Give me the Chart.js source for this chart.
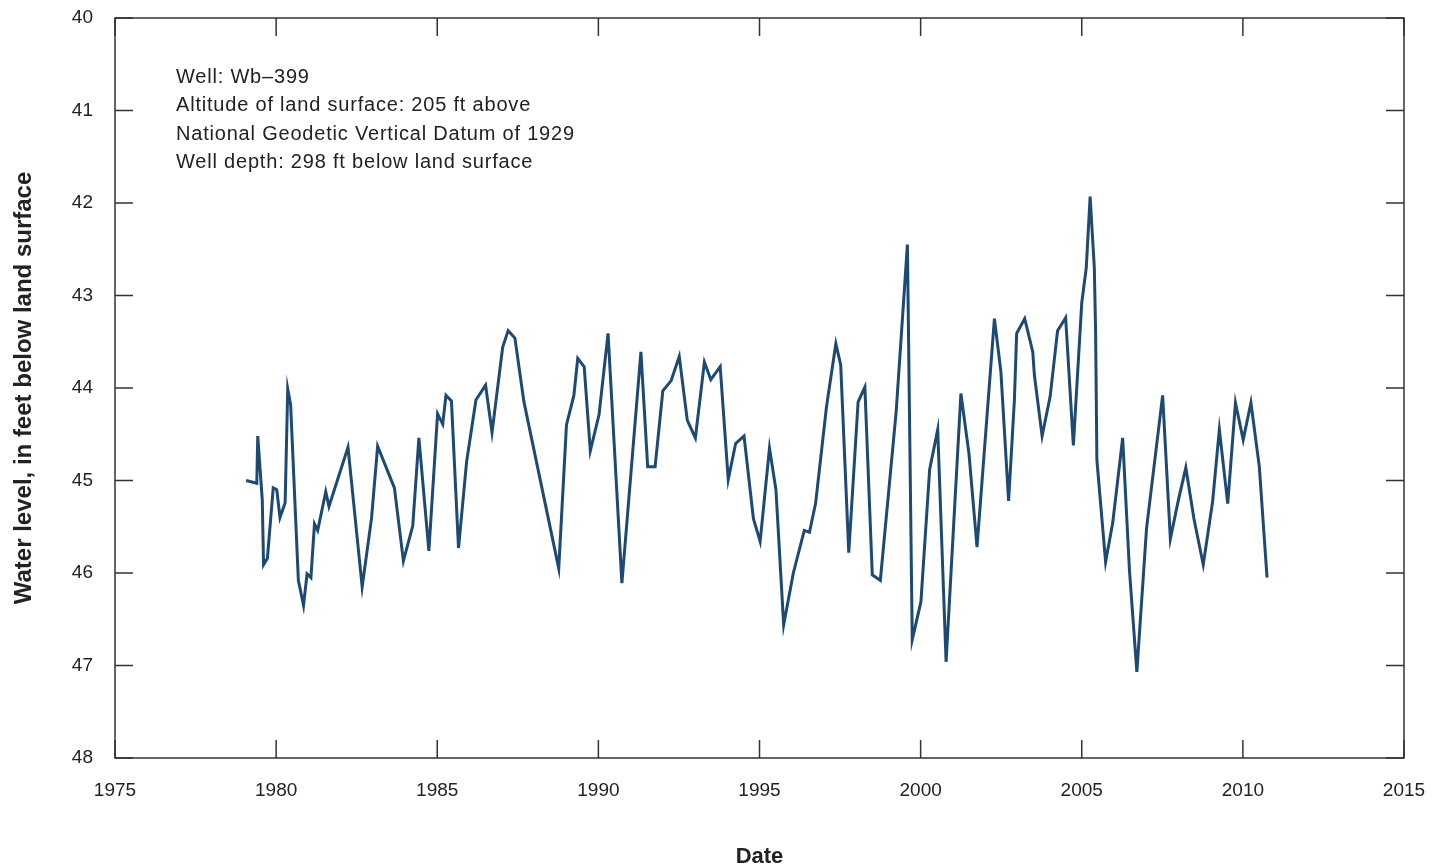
<!DOCTYPE html>
<html>
<head>
<meta charset="utf-8">
<script src="https://cdn.jsdelivr.net/npm/chart.js@4.4.0/dist/chart.umd.min.js"></script>
<style>
  html, body { margin: 0; padding: 0; background: #fff; }
  #wrap { width: 1438px; height: 867px; position: relative; }
</style>
</head>
<body>
<div id="wrap"><canvas id="wellChart"></canvas></div>
<script>
// Well Wb-399 water levels
const dates = [
  1979.07, 1979.40, 1979.43, 1979.57, 1979.61, 1979.73, 1979.91, 1980.02, 1980.12, 1980.28,
  1980.36, 1980.45, 1980.69, 1980.85, 1980.96, 1981.08, 1981.19, 1981.29, 1981.54, 1981.64,
  1982.23, 1982.67, 1982.96, 1983.15, 1983.67, 1983.95, 1984.24, 1984.43, 1984.74, 1985.01,
  1985.17, 1985.27, 1985.44, 1985.66, 1985.91, 1986.20, 1986.50, 1986.70, 1987.03, 1987.20,
  1987.41, 1987.69, 1988.77, 1989.01, 1989.24, 1989.36, 1989.56, 1989.75, 1990.02, 1990.30,
  1990.73, 1991.32, 1991.53, 1991.76, 1992.00, 1992.26, 1992.51, 1992.76, 1993.01, 1993.29,
  1993.49, 1993.78, 1994.03, 1994.26, 1994.52, 1994.81, 1995.02, 1995.31, 1995.51, 1995.75,
  1996.05, 1996.39, 1996.55, 1996.74, 1997.08, 1997.37, 1997.52, 1997.77, 1998.06, 1998.27,
  1998.50, 1998.75, 1999.24, 1999.59, 1999.74, 2000.01, 2000.28, 2000.53, 2000.79, 2001.25,
  2001.50, 2001.75, 2002.29, 2002.49, 2002.73, 2002.91, 2002.98, 2003.23, 2003.48, 2003.53,
  2003.77, 2004.02, 2004.25, 2004.50, 2004.74, 2005.00, 2005.14, 2005.26, 2005.39, 2005.43,
  2005.47, 2005.74, 2005.96, 2006.27, 2006.48, 2006.71, 2007.01, 2007.51, 2007.75, 2008.00,
  2008.23, 2008.48, 2008.77, 2009.06, 2009.27, 2009.53, 2009.77, 2010.01, 2010.25, 2010.51,
  2010.75
];
const levels = [
  45.00, 45.03, 44.52, 45.21, 45.91, 45.84, 45.08, 45.10, 45.40, 45.24,
  44.01, 44.18, 46.08, 46.35, 46.01, 46.05, 45.47, 45.54, 45.12, 45.28,
  44.64, 46.15, 45.41, 44.63, 45.08, 45.87, 45.49, 44.54, 45.76, 44.28,
  44.39, 44.08, 44.14, 45.73, 44.80, 44.13, 43.97, 44.48, 43.56, 43.38,
  43.46, 44.15, 45.95, 44.40, 44.08, 43.68, 43.77, 44.68, 44.29, 43.41,
  46.11, 43.61, 44.85, 44.85, 44.03, 43.92, 43.66, 44.35, 44.54, 43.72,
  43.91, 43.77, 44.99, 44.60, 44.52, 45.41, 45.66, 44.65, 45.10, 46.56,
  46.00, 45.54, 45.56, 45.25, 44.20, 43.52, 43.75, 45.78, 44.15, 43.99,
  46.02, 46.08, 44.26, 42.45, 46.72, 46.31, 44.88, 44.45, 46.96, 44.06,
  44.71, 45.72, 43.25, 43.82, 45.22, 44.13, 43.41, 43.25, 43.61, 43.86,
  44.52, 44.09, 43.38, 43.24, 44.62, 43.08, 42.70, 41.93, 42.70, 43.39,
  44.78, 45.88, 45.46, 44.54, 45.97, 47.07, 45.52, 44.08, 45.63, 45.21,
  44.86, 45.41, 45.91, 45.23, 44.45, 45.25, 44.16, 44.56, 44.16, 44.85,
  46.05
];
const infoLines = [
  'Well: Wb\u2013399',
  'Altitude of land surface: 205 ft above',
  'National Geodetic Vertical Datum of 1929',
  'Well depth: 298 ft below land surface'
];

const lineColor = '#1d4a72';
const axisColor = '#333333';
const textFont = "'Liberation Sans', Arial, sans-serif";

// frame + inward ticks on all four sides, plus the well info block
const framePlugin = {
  id: 'frame',
  afterDraw(chart) {
    const { ctx, chartArea: a, scales } = chart;
    const len = 18;
    ctx.save();
    ctx.strokeStyle = axisColor;
    ctx.lineWidth = 1.5;
    ctx.strokeRect(a.left, a.top, a.right - a.left, a.bottom - a.top);
    ctx.beginPath();
    scales.x.ticks.forEach(t => {
      const px = scales.x.getPixelForValue(t.value);
      ctx.moveTo(px, a.bottom); ctx.lineTo(px, a.bottom - len);
      ctx.moveTo(px, a.top); ctx.lineTo(px, a.top + len);
    });
    scales.y.ticks.forEach(t => {
      const py = scales.y.getPixelForValue(t.value);
      ctx.moveTo(a.left, py); ctx.lineTo(a.left + len, py);
      ctx.moveTo(a.right, py); ctx.lineTo(a.right - len, py);
    });
    ctx.stroke();

    ctx.fillStyle = '#222';
    ctx.font = "20px " + textFont;
    ctx.textBaseline = 'middle';
    ctx.letterSpacing = '0.8px';
    infoLines.forEach((s, i) => ctx.fillText(s, a.left + 61, a.top + 59 + i * 28.6));
    ctx.restore();
  }
};

new Chart(document.getElementById('wellChart'), {
  type: 'line',
  data: {
    datasets: [{
      label: 'Water level',
      data: dates.map((d, i) => ({ x: d, y: levels[i] })),
      borderColor: lineColor,
      borderWidth: 3,
      pointRadius: 0,
      tension: 0,
      fill: false
    }]
  },
  options: {
    responsive: true,
    maintainAspectRatio: false,
    animation: false,
    layout: { padding: { top: 18, right: 34, left: 0, bottom: 0 } },
    plugins: { legend: { display: false }, tooltip: { enabled: false } },
    scales: {
      x: {
        type: 'linear',
        min: 1975,
        max: 2015,
        ticks: {
          stepSize: 5,
          color: '#222',
          padding: 13,
          font: { family: textFont, size: 19 },
          callback: v => String(v)
        },
        grid: { display: false },
        border: { display: false },
        title: {
          display: true,
          text: 'Date',
          color: '#222',
          padding: { top: 46, bottom: -3 },
          font: { family: textFont, size: 22, weight: 'bold' }
        },
        afterFit: s => { s.height = 867 - 758; s.paddingLeft = 0; s.paddingRight = 0; }
      },
      y: {
        reverse: true,
        min: 40,
        max: 48,
        ticks: {
          stepSize: 1,
          color: '#222',
          padding: 14,
          font: { family: textFont, size: 19 }
        },
        grid: { display: false },
        border: { display: false },
        title: {
          display: true,
          text: 'Water level, in feet below land surface',
          color: '#222',
          padding: { top: 10, bottom: 0 },
          font: { family: textFont, size: 24, weight: 'bold' }
        },
        afterFit: s => { s.width = 115; s.paddingTop = 0; s.paddingBottom = 0; }
      }
    }
  },
  plugins: [framePlugin]
});
</script>
</body>
</html>
